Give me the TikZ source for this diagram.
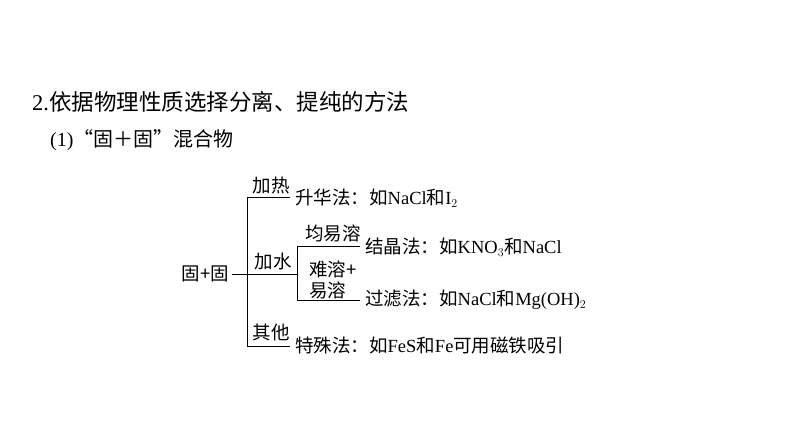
\documentclass[tikz,border=0pt]{standalone}
\usepackage{fontspec}
\setmainfont{Liberation Serif}
\newfontfamily\cjk{Noto Sans CJK SC}
\begin{document}
\begin{tikzpicture}[x=1pt,y=-1pt,
  t/.style={inner sep=0pt,font=\fontsize{18.5}{21}\selectfont},
  ln/.style={line width=0.8pt}]
\useasboundingbox (0,0) rectangle (794,447);
\node[t,anchor=west,font=\fontsize{22.5}{26}\selectfont] (title) at (32,102) {2.{\cjk 依据物理性质选择分离、提纯的方法}};
\node[t,anchor=west,font=\fontsize{20}{24}\selectfont] (sub) at (50,140) {(1){\cjk “固＋固”混合物}};
\node[t,anchor=east] (root) at (229,274) {\cjk 固+固};
\coordinate (v1) at (247,197); \coordinate (v2) at (247,346);
\coordinate (a1) at (290,197); \coordinate (a3) at (290,346);
\coordinate (w1) at (297,246); \coordinate (w2) at (297,300); \coordinate (wm) at (297,274);
\coordinate (b1) at (360,246); \coordinate (b2) at (360,300);
\draw[ln] (a1) -- (v1) -- (v2) -- (a3);
\draw[ln] (root.east) ++(3,0) -- (wm);
\draw[ln] (b1) -- (w1) -- (w2) -- (b2);
\node[t] (l1) at (271,185) {\cjk 加热};
\node[t] (l2) at (273,261) {\cjk 加水};
\node[t] (l3) at (271,332) {\cjk 其他};
\node[t] (l4) at (333,233) {\cjk 均易溶};
\node[t,align=left] (l5) at (333,280) {\cjk 难溶+\\[0pt]\cjk 易溶};
\node[t,anchor=west] (r1) at (295,198) {{\cjk 升华法：如}NaCl{\cjk 和}I$_2$};
\node[t,anchor=west] (r2) at (365,247) {{\cjk 结晶法：如}KNO$_3${\cjk 和}NaCl};
\node[t,anchor=west] (r3) at (365,300) {{\cjk 过滤法：如}NaCl{\cjk 和}Mg(OH)$_2$};
\node[t,anchor=west] (r4) at (295,346) {{\cjk 特殊法：如}FeS{\cjk 和}Fe{\cjk 可用磁铁吸引}};
\end{tikzpicture}
\end{document}
